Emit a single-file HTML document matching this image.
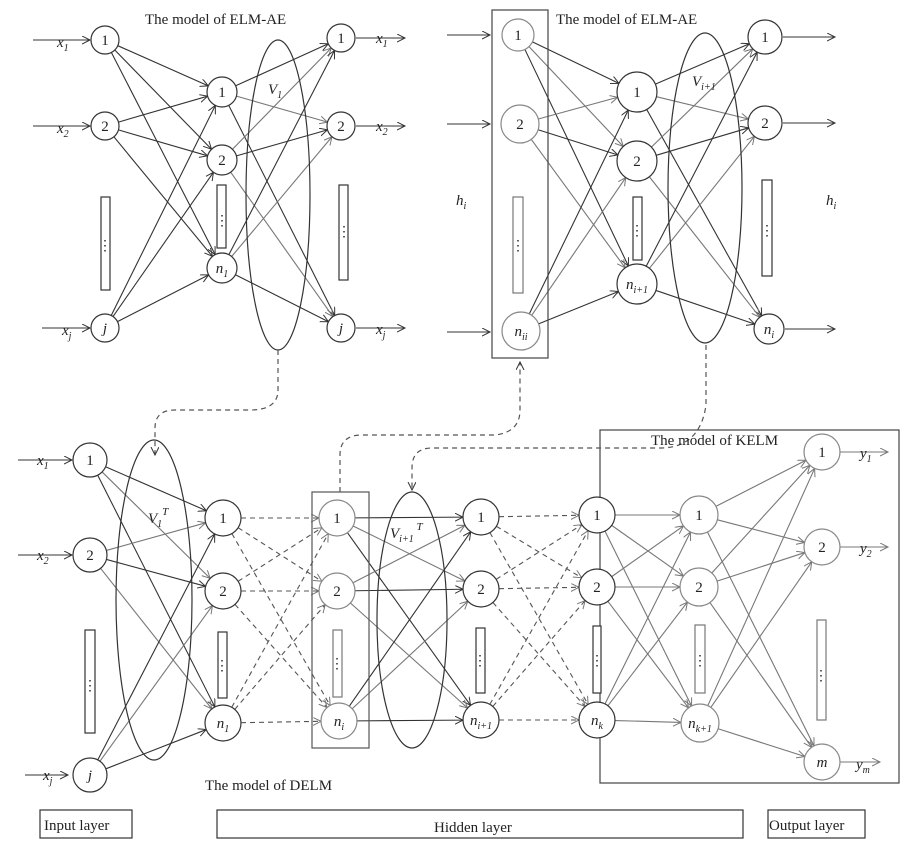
<!DOCTYPE html>
<html><head><meta charset="utf-8"><style>
html,body{margin:0;padding:0;background:#fff}
svg{display:block}
text{font-family:"Liberation Serif",serif;fill:#222}
.i{font-style:italic}
</style></head><body>
<svg id="s" width="920" height="848" viewBox="0 0 920 848" xmlns="http://www.w3.org/2000/svg">
<defs>
<marker id="a" markerWidth="10" markerHeight="10" refX="8" refY="4" orient="auto" markerUnits="userSpaceOnUse"><path d="M0,0 L8,4 L0,8" fill="none" stroke="#333" stroke-width="1"/></marker>
<marker id="g" markerWidth="10" markerHeight="10" refX="8" refY="4" orient="auto" markerUnits="userSpaceOnUse"><path d="M0,0 L8,4 L0,8" fill="none" stroke="#777" stroke-width="1"/></marker>
</defs>
<g id="lines"></g>
<g fill="#fff" stroke-width="1.2">
<!-- ellipses -->
<ellipse cx="278" cy="195" rx="32" ry="155" fill="none" stroke="#333"/>
<ellipse cx="705" cy="188" rx="37" ry="155" fill="none" stroke="#333"/>
<ellipse cx="154" cy="600" rx="38" ry="160" fill="none" stroke="#333"/>
<ellipse cx="412" cy="620" rx="35" ry="128" fill="none" stroke="#333"/>
<!-- boxes -->
<rect x="492" y="10" width="56" height="348" fill="none" stroke="#444"/>
<rect x="312" y="492" width="57" height="256" fill="none" stroke="#555"/>
<rect x="600" y="430" width="299" height="353" fill="none" stroke="#444"/>
<!-- dot rects -->
<rect x="101" y="197" width="9" height="93" stroke="#333"/>
<rect x="217" y="185" width="9" height="63" stroke="#333"/>
<rect x="339" y="185" width="9" height="95" stroke="#333"/>
<rect x="513" y="197" width="10" height="96" stroke="#777"/>
<rect x="633" y="197" width="9" height="63" stroke="#333"/>
<rect x="762" y="180" width="10" height="96" stroke="#333"/>
<rect x="85" y="630" width="10" height="103" stroke="#333"/>
<rect x="218" y="632" width="9" height="66" stroke="#333"/>
<rect x="333" y="630" width="9" height="67" stroke="#777"/>
<rect x="476" y="628" width="9" height="65" stroke="#333"/>
<rect x="593" y="626" width="8" height="67" stroke="#333"/>
<rect x="695" y="625" width="10" height="68" stroke="#777"/>
<rect x="817" y="620" width="9" height="100" stroke="#777"/>
</g>
<g font-size="14" text-anchor="middle">
<text x="105" y="250">⋮</text><text x="222" y="225">⋮</text><text x="344" y="236">⋮</text>
<text x="518" y="250">⋮</text><text x="637" y="235">⋮</text><text x="767" y="235">⋮</text>
<text x="90" y="690">⋮</text><text x="222" y="670">⋮</text><text x="337" y="668">⋮</text>
<text x="480" y="665">⋮</text><text x="597" y="665">⋮</text><text x="700" y="665">⋮</text><text x="821" y="680">⋮</text>
</g>
<g id="nodes"></g>
<!-- dashed connectors -->
<g fill="none" stroke="#555" stroke-width="1.2" stroke-dasharray="5,4">
<path d="M278,350 L278,390 Q278,410 250,410 L175,410 Q155,410 155,428 L155,455" marker-end="url(#a)"/>
<path d="M340,492 L340,455 Q340,435 362,435 L495,435 Q520,432 520,410 L520,362" marker-end="url(#a)"/>
<path d="M706,345 L706,405 Q700,448 660,448 L432,448 Q412,448 412,468 L412,490" marker-end="url(#a)"/>
</g>
<!-- labels -->
<g font-size="15">
<text x="145" y="24">The model of ELM-AE</text>
<text x="556" y="24">The model of ELM-AE</text>
<text x="651" y="445">The model of KELM</text>
<text x="205" y="790">The model of DELM</text>
<text class="i" x="268" y="94">V<tspan font-size="10" dy="4">1</tspan></text>
<text class="i" x="692" y="86">V<tspan font-size="10" dy="4">i+1</tspan></text>
<text class="i" x="148" y="523">V<tspan font-size="10" dy="4">1</tspan><tspan font-size="11" dy="-12">T</tspan></text>
<text class="i" x="390" y="538">V<tspan font-size="10" dy="4">i+1</tspan><tspan font-size="11" dy="-12"> T</tspan></text>
<text class="i" x="456" y="205">h<tspan font-size="10" dy="4">i</tspan></text>
<text class="i" x="826" y="205">h<tspan font-size="10" dy="4">i</tspan></text>
<text class="i" x="57" y="47">x<tspan font-size="10" dy="4">1</tspan></text>
<text class="i" x="57" y="133">x<tspan font-size="10" dy="4">2</tspan></text>
<text class="i" x="62" y="335">x<tspan font-size="10" dy="4">j</tspan></text>
<text class="i" x="376" y="43">x<tspan font-size="10" dy="4">1</tspan></text>
<text class="i" x="376" y="131">x<tspan font-size="10" dy="4">2</tspan></text>
<text class="i" x="376" y="334">x<tspan font-size="10" dy="4">j</tspan></text>
<text class="i" x="37" y="465">x<tspan font-size="10" dy="4">1</tspan></text>
<text class="i" x="37" y="560">x<tspan font-size="10" dy="4">2</tspan></text>
<text class="i" x="43" y="780">x<tspan font-size="10" dy="4">j</tspan></text>
<text class="i" x="860" y="458">y<tspan font-size="10" dy="4">1</tspan></text>
<text class="i" x="860" y="553">y<tspan font-size="10" dy="4">2</tspan></text>
<text class="i" x="856" y="769">y<tspan font-size="10" dy="4">m</tspan></text>
</g>
<g fill="none" stroke-width="1.2">
<rect x="40" y="810" width="92" height="28" stroke="#333"/>
<rect x="217" y="810" width="526" height="28" stroke="#333"/>
<rect x="768" y="810" width="97" height="28" stroke="#333"/>
</g>
<g font-size="15">
<text x="44" y="830">Input layer</text>
<text x="434" y="832">Hidden layer</text>
<text x="769" y="830">Output layer</text>
</g>
</svg>
<script>
var NS="http://www.w3.org/2000/svg";
var L=document.getElementById("lines"),N=document.getElementById("nodes");
function el(p,t,a){var e=document.createElementNS(NS,t);for(var k in a)e.setAttribute(k,a[k]);p.appendChild(e);return e;}
function line(x1,y1,x2,y2,c,dash,both){var a={x1:x1,y1:y1,x2:x2,y2:y2,stroke:c,"stroke-width":1.1,"marker-end":c=="#333"?"url(#a)":"url(#g)"};if(dash){a["stroke-dasharray"]="5,4";}if(both)a["marker-start"]=a["marker-end"];el(L,"line",a);}
function node(x,y,r,c,lab,it,sub){el(N,"circle",{cx:x,cy:y,r:r,fill:"#fff",stroke:c,"stroke-width":1.2});var t=el(N,"text",{x:x,y:y+5,"text-anchor":"middle","font-size":15});if(it)t.setAttribute("class","i");t.textContent=lab;if(sub){var s=el(t,"tspan",{"font-size":10,dy:4});s.textContent=sub;}}
function conn(A,B,cols,dash,both){A.forEach(function(a,i){B.forEach(function(b,j){var dx=b[0]-a[0],dy=b[1]-a[1],d=Math.hypot(dx,dy);var c=cols[(i+j)%cols.length];line(a[0]+dx/d*a[2],a[1]+dy/d*a[2],b[0]-dx/d*b[2],b[1]-dy/d*b[2],c,dash,both);});});}
// top-left
var i1=[[105,40,14],[105,126,14],[105,328,14]],h1=[[222,92,15],[222,160,15],[222,268,15]],o1=[[341,38,14],[341,126,14],[341,328,14]];
conn(i1,h1,["#333"]);conn(h1,o1,["#333","#777"]);
// top-right
var i2=[[518,35,16],[520,124,19],[521,331,19]],h2=[[637,92,20],[637,161,20],[637,284,20]],o2=[[765,37,17],[765,123,17],[769,329,15]];
conn(i2,h2,["#333","#777"]);conn(h2,o2,["#333","#777"]);
// bottom
var bi=[[90,460,17],[90,555,17],[90,775,17]],b1=[[223,518,18],[223,591,18],[223,723,18]],b2=[[337,518,18],[337,591,18],[339,721,18]],b3=[[481,517,18],[481,589,18],[481,720,18]],b4=[[597,515,18],[597,587,18],[597,720,18]],b5=[[699,515,19],[699,587,19],[700,723,19]],bo=[[822,452,18],[822,547,18],[822,762,18]];
conn(bi,b1,["#333","#777"]);conn(b1,b2,["#555"],true,true);conn(b2,b3,["#333","#777"]);conn(b3,b4,["#555"],true,true);conn(b4,b5,["#777"]);conn(b5,bo,["#777"]);
// io arrows
[[33,40,90],[33,126,90],[42,328,90]].forEach(function(p){line(p[0],p[1],p[2],p[1],"#333");});
[[356,38,405],[356,126,405],[356,328,405]].forEach(function(p){line(p[0],p[1],p[2],p[1],"#333");});
[[447,35,490],[447,124,490],[447,332,490]].forEach(function(p){line(p[0],p[1],p[2],p[1],"#333");});
[[783,37,835],[783,123,835],[785,329,835]].forEach(function(p){line(p[0],p[1],p[2],p[1],"#333");});
[[18,460,72],[18,555,72],[25,775,68]].forEach(function(p){line(p[0],p[1],p[2],p[1],"#333");});
[[840,452,888],[840,547,888],[840,762,880]].forEach(function(p){line(p[0],p[1],p[2],p[1],"#777");});
// nodes
var D="#333",G="#888";
node(105,40,14,D,"1");node(105,126,14,D,"2");node(105,328,14,D,"j",1);
node(222,92,15,D,"1");node(222,160,15,D,"2");node(222,268,15,D,"n",1,"1");
node(341,38,14,D,"1");node(341,126,14,D,"2");node(341,328,14,D,"j",1);
node(518,35,16,G,"1");node(520,124,19,G,"2");node(521,331,19,G,"n",1,"ii");
node(637,92,20,D,"1");node(637,161,20,D,"2");node(637,284,20,D,"n",1,"i+1");
node(765,37,17,D,"1");node(765,123,17,D,"2");node(769,329,15,D,"n",1,"i");
node(90,460,17,D,"1");node(90,555,17,D,"2");node(90,775,17,D,"j",1);
node(223,518,18,D,"1");node(223,591,18,D,"2");node(223,723,18,D,"n",1,"1");
node(337,518,18,G,"1");node(337,591,18,G,"2");node(339,721,18,G,"n",1,"i");
node(481,517,18,D,"1");node(481,589,18,D,"2");node(481,720,18,D,"n",1,"i+1");
node(597,515,18,D,"1");node(597,587,18,D,"2");node(597,720,18,D,"n",1,"k");
node(699,515,19,G,"1");node(699,587,19,G,"2");node(700,723,19,G,"n",1,"k+1");
node(822,452,18,G,"1");node(822,547,18,G,"2");node(822,762,18,G,"m",1);
</script>
</body></html>
